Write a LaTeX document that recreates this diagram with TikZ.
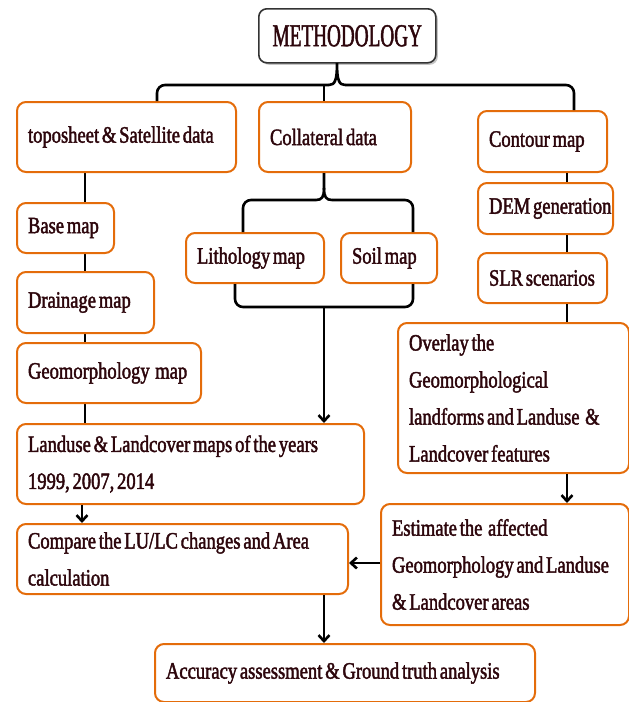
\documentclass[tikz,border=0pt]{standalone}
\usepackage{fontspec}
\setmainfont{Liberation Serif}[FakeStretch=0.79,FakeBold=1.8]
\newfontfamily\methfont{Liberation Serif}[FakeStretch=0.6,FakeBold=1.4]
\usetikzlibrary{arrows.meta,shadows,backgrounds}
\definecolor{boxor}{RGB}{228,108,10}
\definecolor{txt}{RGB}{45,6,12}
\begin{document}
\begin{tikzpicture}[x=1pt,y=-1pt,
  obox/.style={draw=boxor, line width=2pt, rounded corners=9pt, fill=white, anchor=north west,
    inner xsep=11pt, inner ysep=0pt, align=left, text=txt,
    font=\fontsize{23.5}{37}\selectfont,
    execute at begin node={\spaceskip=2.8pt plus 1pt\relax}},
  conn/.style={line width=2.6pt, black},
  arr/.style={conn, -{Straight Barb[length=6pt,width=11pt]}},
]
\useasboundingbox (0,0) rectangle (629,702);
\node[draw=black!80, line width=1.6pt, rounded corners=8pt, fill=white,
  drop shadow={shadow xshift=2pt,shadow yshift=-2pt,fill=black!45},
  minimum width=177pt, minimum height=54pt, anchor=north west, text=txt,
  font=\methfont\fontsize{32}{34}\selectfont] (meth) at (258,8) {\mbox{METHODOLOGY}};

\node[obox, minimum width=219pt, text width=197pt, minimum height=70pt] (topo) at (16,101) {\mbox{toposheet \& Satellite data}};
\node[obox, minimum width=152pt, text width=130pt, minimum height=70pt] (coll) at (258,101) {\mbox{Collateral data}};
\node[obox, minimum width=129pt, text width=107pt, minimum height=61pt] (cont) at (477,110) {\mbox{Contour map}};
\node[obox, minimum width=97pt, text width=75pt, minimum height=50pt] (base) at (16,202) {\mbox{Base map}};
\node[obox, minimum width=137pt, text width=115pt, minimum height=61pt] (drain) at (16,271) {\mbox{Drainage map}};
\node[obox, minimum width=184pt, text width=162pt, minimum height=60pt] (geo) at (16,342) {\mbox{Geomorphology\ \ map}};
\node[obox, minimum width=135pt, text width=113pt, minimum height=51pt] (dem) at (477,182) {\mbox{DEM generation}};
\node[obox, minimum width=129pt, text width=107pt, minimum height=50pt] (slr) at (477,252) {\mbox{SLR scenarios}};
\node[obox, minimum width=138pt, text width=116pt, minimum height=50pt] (lith) at (185,232) {\mbox{Lithology map}};
\node[obox, minimum width=96pt, text width=74pt, minimum height=50pt] (soil) at (340,232) {\mbox{Soil map}};
\node[obox, minimum width=231pt, text width=209pt, minimum height=150pt] (over) at (397,322) {\mbox{Overlay the}\\\mbox{Geomorphological}\\\mbox{landforms and Landuse \ \&}\\\mbox{Landcover features}};
\node[obox, minimum width=347pt, text width=325pt, minimum height=80pt] (land) at (16,423) {\mbox{Landuse \& Landcover maps of the years}\\\mbox{1999, 2007, 2014}};
\node[obox, minimum width=331pt, text width=309pt, minimum height=70pt] (comp) at (16,523) {\mbox{Compare the LU/LC changes and Area}\\\mbox{calculation}};
\node[obox, minimum width=248pt, text width=226pt, minimum height=121pt] (est) at (380,503) {\mbox{Estimate the\ \ affected}\\\mbox{Geomorphology and Landuse}\\\mbox{\& Landcover areas}};
\node[obox, minimum width=380pt, text width=358pt, minimum height=58pt] (acc) at (154,643) {\mbox{Accuracy assessment \& Ground truth analysis}};

\coordinate (tip) at (337,63);
\coordinate (bl) at (157,85);
\coordinate (bm) at (324,85);
\coordinate (br) at (574,85);
\coordinate (cl) at (329,85);
\coordinate (cr) at (345,85);
\coordinate (lx) at (85,0);
\coordinate (rx) at (567,0);
\coordinate (ax) at (82,0);
\coordinate (ay) at (0,563);
\coordinate (k1) at (316,200);
\coordinate (k2) at (332,200);
\coordinate (kt) at (324,188);
\coordinate (kl) at (243,0);
\coordinate (kr) at (413,0);
\coordinate (ql) at (235,0);
\coordinate (bmid) at (324,307);

\begin{pgfonlayer}{background}
\draw[conn] (topo.south -| lx) -- (land.north -| lx);
\end{pgfonlayer}

% top brace
\draw[conn,rounded corners=8pt] (topo.north -| bl) |- (cl);
\draw[conn] (cl) .. controls (335,85) and (337,80) .. (tip) .. controls (337,80) and (339,85) .. (cr);
\draw[conn,rounded corners=8pt] (cr) -| (cont.north -| br);
\draw[conn] (bm) -- (coll.north -| bm);

% collateral brace
\draw[conn,rounded corners=8pt] (lith.north -| kl) |- (k1);
\draw[conn] (k1) .. controls (322,200) and (324,197) .. (kt) -- (coll.south -| bm);
\draw[conn] (kt) .. controls (324,197) and (326,200) .. (k2);
\draw[conn,rounded corners=8pt] (k2) -| (soil.north -| kr);

% bottom bracket
\draw[conn,rounded corners=8pt] (lith.south -| ql) |- (bmid) -| (soil.south -| kr);
\draw[arr] (bmid) -- (land.north -| bmid);

% right column
\draw[conn] (cont.south -| rx) -- (dem.north -| rx);
\draw[conn] (dem.south -| rx) -- (slr.north -| rx);
\draw[conn] (slr.south -| rx) -- (over.north -| rx);
\draw[arr] (over.south -| rx) -- (est.north -| rx);

% lower arrows
\draw[arr] (land.south -| ax) -- (comp.north -| ax);
\draw[arr] (est.west |- ay) -- (comp.east |- ay);
\draw[arr] (comp.south -| bm) -- (acc.north -| bm);
\end{tikzpicture}
\end{document}
